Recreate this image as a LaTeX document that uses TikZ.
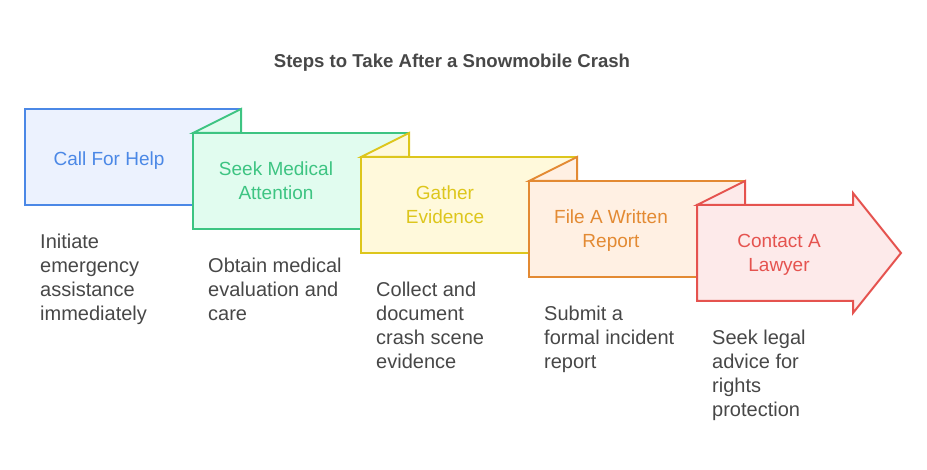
\documentclass[tikz,border=0pt]{standalone}
\usepackage{fontspec}
\setmainfont{Liberation Sans}
\definecolor{helpline}{HTML}{4B88E6}
\definecolor{helpfill}{HTML}{ECF2FE}
\definecolor{medline}{HTML}{3DC482}
\definecolor{medfill}{HTML}{E1FCEF}
\definecolor{evidline}{HTML}{DDC61C}
\definecolor{evidfill}{HTML}{FFF9DB}
\definecolor{reportline}{HTML}{E38A33}
\definecolor{reportfill}{HTML}{FFF0E3}
\definecolor{lawline}{HTML}{E5534F}
\definecolor{lawfill}{HTML}{FDEAEA}
\definecolor{notetext}{HTML}{474747}
\newcommand{\plaincard}[3]{\filldraw[#3line, fill=#3fill, line width=2pt] ( #1 , #2 ) rectangle ( {#1+216} , {#2+96} );}
\newcommand{\flapcard}[3]{\filldraw[#3line, fill=#3fill, line width=2pt] ( #1 , #2 ) rectangle ( {#1+216} , {#2+96} ); \filldraw[#3line, fill=#3fill, line width=2pt] ( #1 , #2 ) -- ( {#1+48} , {#2-24} ) -- ( {#1+48} , #2 ) -- cycle;}
\newcommand{\arrowcard}[3]{\filldraw[#3line, fill=#3fill, line width=2pt] ( #1 , #2 ) -- ( {#1+156} , #2 ) -- ( {#1+156} , {#2-12} ) -- ( {#1+204} , {#2+48} ) -- ( {#1+156} , {#2+108} ) -- ( {#1+156} , {#2+96} ) -- ( #1 , {#2+96} ) -- cycle; \filldraw[#3line, fill=#3fill, line width=2pt] ( #1 , #2 ) -- ( {#1+48} , {#2-24} ) -- ( {#1+48} , #2 ) -- cycle;}

\begin{document}
\begin{tikzpicture}[x=1pt, y=-1pt,
    steplabel/.style={align=center, inner sep=0pt, font=\fontsize{19}{24}\selectfont, execute at begin node=\strut, execute at end node=\strut},
    stepnote/.style={align=left, anchor=north west, inner sep=0pt, text=notetext, font=\fontsize{20}{24}\selectfont, execute at begin node=\strut}]
        \useasboundingbox (0,0) rectangle (927,470);
        \node[anchor=base, text=notetext, font=\fontsize{18.6}{22}\selectfont\bfseries] (title) at (452,68) {Steps to Take After a Snowmobile Crash};
        % step 1
        \plaincard{25}{109}{help}
        \node[steplabel, text=helpline] (help) at (109,160.5) {Call For Help};
        \node[stepnote] (helpnote) at (40,234) {Initiate\\emergency\\assistance\\immediately};
        % step 2
        \flapcard{193}{133}{med}
        \node[steplabel, text=medline] (med) at (276,184.5) {Seek Medical\\Attention};
        \node[stepnote] (mednote) at (208,258) {Obtain medical\\evaluation and\\care};
        % step 3
        \flapcard{361}{157}{evid}
        \node[steplabel, text=evidline] (evid) at (445,208.5) {Gather\\Evidence};
        \node[stepnote] (evidnote) at (376,282) {Collect and\\document\\crash scene\\evidence};
        % step 4
        \flapcard{529}{181}{report}
        \node[steplabel, text=reportline] (report) at (611,232.5) {File A Written\\Report};
        \node[stepnote] (reportnote) at (544,306) {Submit a\\formal incident\\report};
        % step 5
        \arrowcard{697}{205}{law}
        \node[steplabel, text=lawline] (law) at (779,256.5) {Contact A\\Lawyer};
        \node[stepnote] (lawnote) at (712,330) {Seek legal\\advice for\\rights\\protection};
    \end{tikzpicture}
\end{document}
